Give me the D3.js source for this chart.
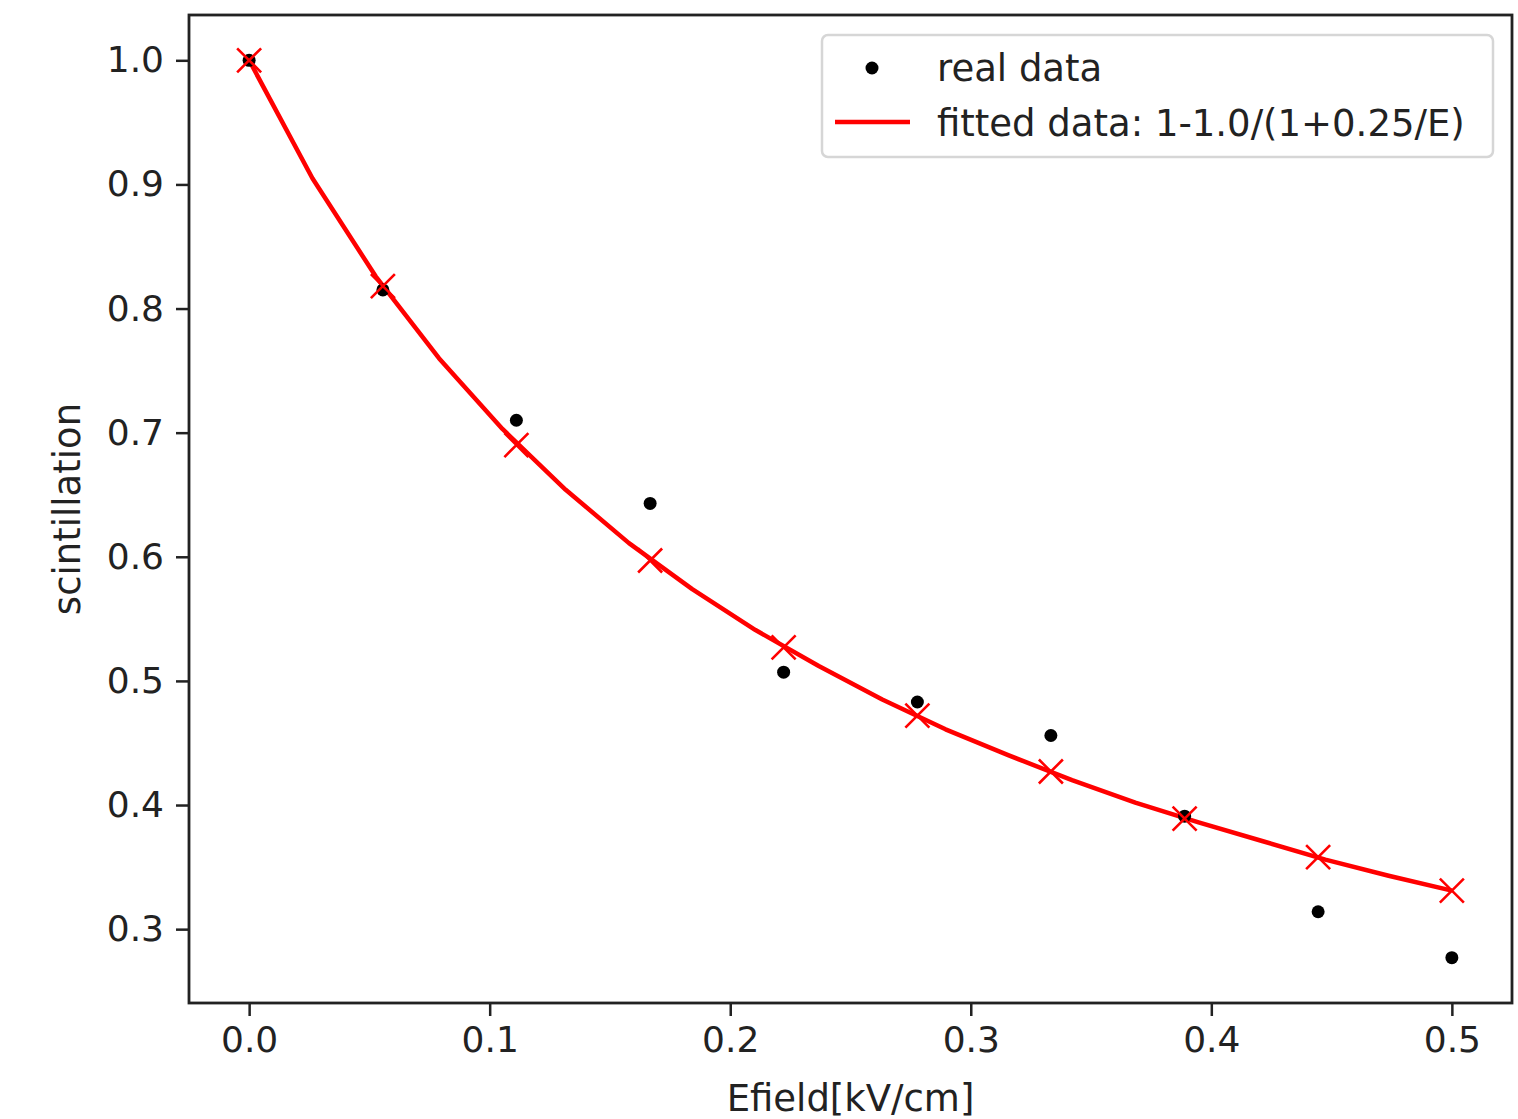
<!DOCTYPE html>
<html>
<head>
<meta charset="utf-8">
<style>
  body { margin: 0; background: #fff; }
  text { font-family: "DejaVu Sans", sans-serif; fill: #222; }
  .axis text { font-size: 36px; fill: #222; }
  .axis path, .axis line { stroke: #222; }
</style>
<script src="https://d3js.org/d3.v7.min.js"></script>
</head>
<body>
<svg width="1518" height="1119"></svg>
<script>
// measured points (black dots) and fitted values at the same field values
var fieldPts = [0, 0.0556, 0.1111, 0.1667, 0.2222, 0.2778, 0.3333, 0.3889, 0.4444, 0.5];
var realData = [1.0, 0.815, 0.710, 0.643, 0.507, 0.483, 0.456, 0.391, 0.314, 0.277];
var fitMarks = [1.0, 0.818, 0.690, 0.597, 0.527, 0.472, 0.427, 0.389, 0.358, 0.331];

// fitted curve
var curveX = [0, 0.0263, 0.0526, 0.0789, 0.1053, 0.1316, 0.1579, 0.1842, 0.2105, 0.2368,
              0.2632, 0.2895, 0.3158, 0.3421, 0.3684, 0.3947, 0.4211, 0.4474, 0.4737, 0.5];
var curveY = [1.0, 0.905, 0.826, 0.760, 0.703, 0.654, 0.611, 0.574, 0.541, 0.512,
              0.485, 0.461, 0.440, 0.420, 0.402, 0.386, 0.371, 0.356, 0.343, 0.331];

var xTicks = [0, 0.1, 0.2, 0.3, 0.4, 0.5];
var yTicks = [0.3, 0.4, 0.5, 0.6, 0.7, 0.8, 0.9, 1.0];

var svg = d3.select("svg");
var box = { left: 189, right: 1512, top: 15, bottom: 1003 };

var x = d3.scaleLinear().domain([-0.025, 0.525]).range([box.left, box.right]);
var y = d3.scaleLinear().domain([0.2405, 1.0365]).range([box.bottom, box.top]);

// axes
svg.append("g")
    .attr("class", "axis")
    .attr("transform", "translate(0," + box.bottom + ")")
    .call(d3.axisBottom(x).tickValues(xTicks).tickFormat(d3.format(".1f"))
        .tickSize(13).tickSizeOuter(0).tickPadding(10))
    .call(function (g) { g.select(".domain").remove(); })
    .selectAll("line").attr("stroke-width", 2.5);

svg.append("g")
    .attr("class", "axis")
    .attr("transform", "translate(" + box.left + ",0)")
    .call(d3.axisLeft(y).tickValues(yTicks).tickFormat(d3.format(".1f"))
        .tickSize(13).tickSizeOuter(0).tickPadding(12))
    .call(function (g) { g.select(".domain").remove(); })
    .selectAll("line").attr("stroke-width", 2.5);

// frame
svg.append("rect")
    .attr("x", box.left).attr("y", box.top)
    .attr("width", box.right - box.left).attr("height", box.bottom - box.top)
    .attr("fill", "none").attr("stroke", "#222").attr("stroke-width", 2.8);

// axis titles
svg.append("text")
    .attr("x", (box.left + box.right) / 2).attr("y", 1111)
    .attr("text-anchor", "middle").attr("font-size", "37px")
    .text("Efield[kV/cm]");

svg.append("text")
    .attr("transform", "translate(80," + (box.top + box.bottom) / 2 + ") rotate(-90)")
    .attr("text-anchor", "middle").attr("font-size", "37px")
    .text("scintillation");

// fitted line
var line = d3.line().x(function (d) { return x(d[0]); }).y(function (d) { return y(d[1]); });
svg.append("path")
    .datum(d3.zip(curveX, curveY))
    .attr("d", line)
    .attr("fill", "none").attr("stroke", "red").attr("stroke-width", 4.5)
    .attr("stroke-linejoin", "round");

// real data dots
svg.selectAll(".dot")
    .data(d3.zip(fieldPts, realData))
    .enter().append("circle")
    .attr("class", "dot")
    .attr("cx", function (d) { return x(d[0]); })
    .attr("cy", function (d) { return y(d[1]); })
    .attr("r", 6.5).attr("fill", "black");

// fit markers (x)
var m = 12;
svg.selectAll(".xm")
    .data(d3.zip(fieldPts, fitMarks))
    .enter().append("path")
    .attr("class", "xm")
    .attr("d", function (d) {
        var cx = x(d[0]), cy = y(d[1]);
        return "M" + (cx - m) + "," + (cy - m) + "L" + (cx + m) + "," + (cy + m) +
               "M" + (cx - m) + "," + (cy + m) + "L" + (cx + m) + "," + (cy - m);
    })
    .attr("stroke", "red").attr("stroke-width", 2.6).attr("fill", "none");

// legend
var lg = svg.append("g");
lg.append("rect")
    .attr("x", 822).attr("y", 35).attr("width", 671).attr("height", 122)
    .attr("rx", 6).attr("fill", "white").attr("fill-opacity", 0.8)
    .attr("stroke", "#d6d6d6").attr("stroke-width", 2.5);
lg.append("circle").attr("cx", 872).attr("cy", 68).attr("r", 6.5).attr("fill", "black");
lg.append("text").attr("x", 937).attr("y", 81).attr("font-size", "37px").text("real data");
lg.append("line").attr("x1", 835).attr("x2", 910).attr("y1", 122).attr("y2", 122)
    .attr("stroke", "red").attr("stroke-width", 4.5);
lg.append("text").attr("x", 937).attr("y", 136).attr("font-size", "37px")
    .text("fitted data: 1-1.0/(1+0.25/E)");
</script>
</body>
</html>
